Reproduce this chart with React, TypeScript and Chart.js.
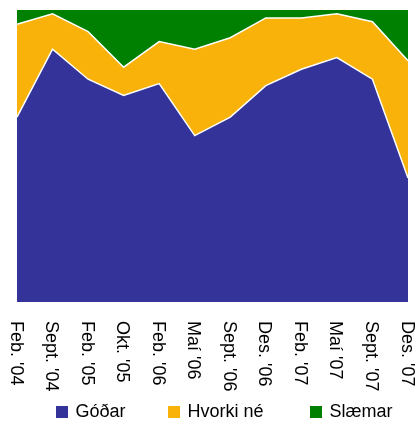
import React, { useEffect, useRef } from 'react';
import { Chart, registerables } from 'chart.js';

Chart.register(...registerables);

const categories = [
  "Feb. '04", "Sept. '04", "Feb. '05", "Okt. '05", "Feb. '06", "Maí '06",
  "Sept. '06", "Des. '06", "Feb. '07", "Maí '07", "Sept. '07", "Des. '07",
];
const godar = [63.3, 86.6, 76.3, 70.7, 74.8, 57.0, 63.3, 74.1, 79.7, 83.7, 76.3, 42.5];
const hvorki = [31.8, 12.1, 16.3, 9.7, 14.4, 29.6, 27.2, 23.2, 17.6, 15.0, 19.7, 40.1];
const slaemar = [4.9, 1.3, 7.4, 19.6, 10.8, 13.4, 9.5, 2.7, 2.7, 1.3, 4.0, 17.4];
const seriesNames = ['Góðar', 'Hvorki né', 'Slæmar'];
const seriesColors = ['#333399', '#F8B20A', '#008000'];

const FONT = '18px "Liberation Sans", Arial, sans-serif';

const xLabelPlugin = {
  id: 'xLabels',
  afterDraw(chart: any) {
    const ctx = chart.ctx;
    const xs = chart.scales.x;
    const bottom = chart.chartArea.bottom;
    ctx.save();
    ctx.font = FONT;
    ctx.fillStyle = '#000';
    ctx.textAlign = 'left';
    ctx.textBaseline = 'middle';
    categories.forEach((c, i) => {
      const x = xs.getPixelForValue(i);
      ctx.save();
      ctx.translate(x - 1.5, bottom + 19);
      ctx.rotate(Math.PI / 2);
      ctx.fillText(c, 0, 0);
      ctx.restore();
    });
    ctx.restore();
  },
};

const legendX = [56, 168, 310];

const legendPlugin = {
  id: 'customLegend',
  afterDraw(chart: any) {
    const ctx = chart.ctx;
    ctx.save();
    ctx.font = FONT;
    ctx.textAlign = 'left';
    ctx.textBaseline = 'middle';
    chart.data.datasets.forEach((ds: any, i: number) => {
      const x = legendX[i];
      ctx.fillStyle = ds.backgroundColor;
      ctx.fillRect(x, 406, 12, 12);
      ctx.fillStyle = '#000';
      ctx.fillText(ds.label, x + 19.5, 412);
    });
    ctx.restore();
  },
};

export default function App() {
  const ref = useRef<HTMLCanvasElement>(null);
  useEffect(() => {
    document.body.style.margin = '0';
    const values = [godar, hvorki, slaemar];
    const chart = new Chart(ref.current as HTMLCanvasElement, {
      type: 'line',
      data: {
        labels: categories,
        datasets: values.map((v, i) => ({
          label: seriesNames[i],
          data: v,
          backgroundColor: seriesColors[i],
          borderColor: '#ffffff',
          borderWidth: i === 2 ? 0 : 1.5,
          pointRadius: 0,
          tension: 0,
          fill: i === 0 ? 'origin' : '-1',
        })),
      },
      options: {
        animation: false,
        responsive: false,
        layout: { padding: { left: 17, right: 7, top: 10, bottom: 119 } },
        plugins: { legend: { display: false }, tooltip: { enabled: false } },
        scales: {
          x: { type: 'category', display: false, offset: false },
          y: { display: false, stacked: true, min: 0, max: 100 },
        },
      },
      plugins: [xLabelPlugin, legendPlugin],
    });
    return () => chart.destroy();
  }, []);
  return (
    <div style={{ width: 415, height: 421 }}>
      <canvas ref={ref} width={415} height={421} style={{ display: 'block' }} />
    </div>
  );
}
